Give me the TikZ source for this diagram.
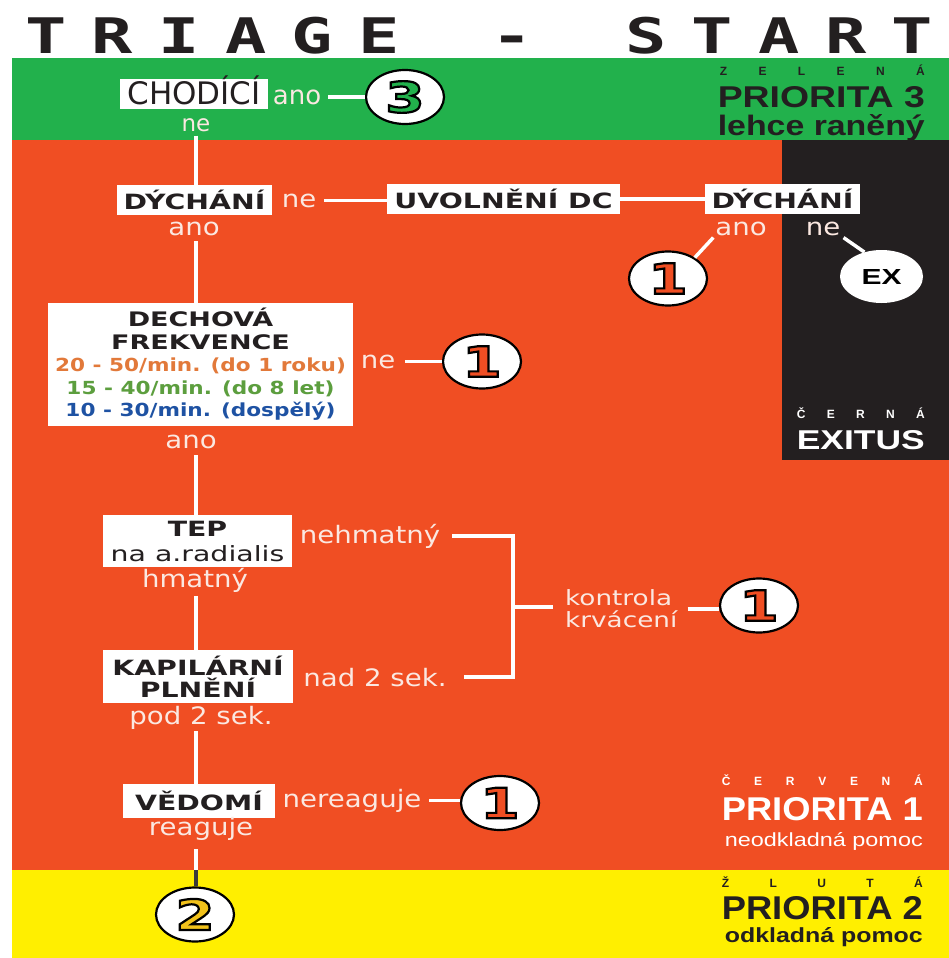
\documentclass[tikz,border=0pt]{standalone}
\usepackage{fontspec}
\usepackage{graphicx}
\usetikzlibrary{shapes.geometric}
\newfontfamily\titf[FakeStretch=1.4]{DejaVu Sans Mono}
\newfontfamily\boxf[FakeStretch=1.35]{DejaVu Sans}
\newfontfamily\rngf[FakeStretch=1.2]{DejaVu Sans}
\newfontfamily\lblf[FakeStretch=1.15]{DejaVu Sans}
\newfontfamily\kontf[FakeStretch=1.25]{DejaVu Sans}
\newfontfamily\chf{DejaVu Sans}
\newfontfamily\prif{Liberation Sans}
\newcommand\outd[2]{{\color{#1}\special{pdf:literal direct 0 0 0 RG 2.2 w 2 Tr}#2\special{pdf:literal direct 0 Tr}}}
\definecolor{cgreen}{HTML}{22B14C}
\definecolor{cred}{HTML}{F04E23}
\definecolor{cyel}{HTML}{FFEF00}
\definecolor{cblk}{HTML}{231F20}
\definecolor{lblw}{HTML}{FBE8E1}
\definecolor{corg}{HTML}{E2793A}
\definecolor{cgrn2}{HTML}{5C9E3E}
\definecolor{cblu}{HTML}{1E52A3}
\definecolor{cgold}{HTML}{F2C21B}
\definecolor{txtk}{HTML}{231F20}
\definecolor{cdkg}{HTML}{3A3A3A}
\begin{document}
\begin{tikzpicture}[x=1pt,y=-1pt,
 wbox/.style={fill=white, text=txtk, inner sep=0pt, align=center, font=\boxf\bfseries\fontsize{21}{25}\selectfont},
 wlbl/.style={text=lblw, inner sep=0pt, outer sep=0pt, anchor=base, font=\lblf\fontsize{24}{24}\selectfont},
 conn/.style={draw=white, line width=3.5pt},
 badge/.style={ellipse, draw=black, line width=2.2pt, fill=white, minimum width=78pt, minimum height=54pt, inner sep=0pt, font=\boxf\bfseries\fontsize{42}{42}\selectfont},
 zlab/.style={anchor=base east, inner sep=0pt, font=\prif\bfseries\fontsize{12}{12}\selectfont},
 plab/.style={anchor=base east, inner sep=0pt, font=\prif\bfseries},
]
\useasboundingbox (0,0) rectangle (949,958);
\fill[white] (0,0) rectangle (949,958);
\fill[cgreen] (12,58) rectangle (949,140);
\fill[cred] (12,140) rectangle (949,870);
\fill[cyel] (12,870) rectangle (949,958);
\fill[cblk] (782,140) rectangle (949,460);

% title
\node[anchor=base west, inner sep=0pt, text=txtk, font=\titf\bfseries\fontsize{49}{49}\selectfont] (title) at (25,53)
 {\makebox[908pt][s]{T\hfill R\hfill I\hfill A\hfill G\hfill E\hfill\phantom{X}\hfill -\hfill\phantom{X}\hfill S\hfill T\hfill A\hfill R\hfill T}};

% right labels
\node[zlab, text=txtk] (zel) at (925,75) {\makebox[205pt][s]{Z\hfill E\hfill L\hfill E\hfill N\hfill Á}};
\node[plab, text=txtk] (pri3) at (925,107) {\resizebox{207pt}{21pt}{PRIORITA 3}};
\node[plab, text=txtk] (leh) at (925,135) {\resizebox{207pt}{21pt}{lehce raněný}};
\node[zlab, text=white] (cer) at (925,418) {\makebox[128pt][s]{Č\hfill E\hfill R\hfill N\hfill Á}};
\node[plab, text=white] (exi) at (925,449) {\resizebox{128pt}{19pt}{EXITUS}};
\node[zlab, text=white] (cerv) at (923,785) {\makebox[201pt][s]{Č\hfill E\hfill R\hfill V\hfill E\hfill N\hfill Á}};
\node[plab, text=white] (pri1) at (923,820) {\resizebox{201pt}{23pt}{PRIORITA 1}};
\node[anchor=base east, inner sep=0pt, text=white, font=\prif] (neo) at (923,846) {\resizebox{198pt}{14pt}{neodkladná pomoc}};
\node[zlab, text=txtk] (zlu) at (923,887) {\makebox[201pt][s]{Ž\hfill L\hfill U\hfill T\hfill Á}};
\node[plab, text=txtk] (pri2) at (923,919) {\resizebox{201pt}{23pt}{PRIORITA 2}};
\node[plab, text=txtk] (odk) at (923,942) {\resizebox{198pt}{15pt}{odkladná pomoc}};

\coordinate (vx) at (196,0);

% flow nodes
\node[wbox, minimum width=148pt, minimum height=30pt, text height=24pt, text depth=4pt, font=\chf\fontsize{31}{31}\selectfont] (chod) at (194,94) {CHODÍCÍ};
\node[anchor=base, inner sep=0pt, text=lblw, font=\chf\fontsize{26}{26}\selectfont] (anoA) at (297,104) {ano};
\node[anchor=base, inner sep=0pt, text=lblw, font=\chf\fontsize{23}{23}\selectfont] (neA) at (196,131) {ne};
\node[badge] (c3) at (405,97) {\outd{cgreen}{3}};

\node[wbox, minimum width=155pt, minimum height=30pt] (dyc1) at (194.5,200) {DÝCHÁNÍ};
\node[wlbl] (neB) at (299,207) {ne};
\node[wbox, minimum width=233pt, minimum height=30pt] (uvo) at (503.5,199) {UVOLNĚNÍ DC};
\node[wbox, minimum width=155pt, minimum height=30pt] (dyc2) at (782.5,198.5) {DÝCHÁNÍ};
\node[wlbl] (anoB) at (194,235) {ano};
\node[wlbl] (anoC) at (741,235) {ano};
\node[wlbl] (neC) at (823,235) {ne};
\node[badge] (c1a) at (668,278.5) {\outd{cred}{1}};
\node[ellipse, fill=white, minimum width=83pt, minimum height=53pt, inner sep=0pt, text=black, font=\prif\bfseries] (ex) at (881.5,276.5) {\resizebox{40pt}{15pt}{EX}};

\node[wbox, minimum width=305pt, minimum height=123pt, font=\boxf\bfseries\fontsize{20}{22.5}\selectfont] (dech) at (200.5,364.5)
 {DECHOVÁ\\FREKVENCE\\
  {\rngf\fontsize{18}{22.5}\selectfont\color{corg}20 - 50/min. (do 1 roku)}\\
  {\rngf\fontsize{18}{22.5}\selectfont\color{cgrn2}15 - 40/min. (do 8 let)}\\
  {\rngf\fontsize{18}{22.5}\selectfont\color{cblu}10 - 30/min. (dospělý)}};
\node[wlbl] (neD) at (378,368) {ne};
\node[badge] (c1b) at (482,361.5) {\outd{cred}{1}};
\node[wlbl] (anoD) at (191,448) {ano};

\node[wbox, minimum width=189pt, minimum height=52pt] (tep) at (197.5,541) {TEP\\{\mdseries na a.radialis}};
\node[wlbl] (nehm) at (370,543) {nehmatný};
\node[wlbl] (hmat) at (195,587) {hmatný};
\node[wbox, minimum width=190pt, minimum height=53pt, font=\boxf\bfseries\fontsize{21}{22}\selectfont] (kap) at (198,676.5) {KAPILÁRNÍ\\PLNĚNÍ};
\node[wlbl] (nad) at (375,686) {nad 2 sek.};
\node[wlbl] (pod) at (201,724) {pod 2 sek.};
\node[text=lblw, inner sep=0pt, align=left, anchor=west, font=\kontf\fontsize{21}{22}\selectfont] (kont) at (565,609) {kontrola\\krvácení};
\node[badge] (c1c) at (759,605.5) {\outd{cred}{1}};

\node[wbox, minimum width=152pt, minimum height=34pt] (ved) at (199,801) {VĚDOMÍ};
\node[wlbl] (nere) at (352,807) {nereaguje};
\node[badge] (c1d) at (500,803) {\outd{cred}{1}};
\node[wlbl] (rea) at (201,835) {reaguje};
\node[badge] (c2) at (195,914.5) {\outd{cgold}{2}};

\coordinate (bt) at (513,538);
\coordinate (bm) at (513,607);
\coordinate (ybord) at (196,870);

% connectors
\draw[conn, shorten <=7pt] (anoA.east) -- (anoA.east -| c3.west);
\draw[conn, shorten <=4pt] (neA.south -| vx) -- (dyc1.north -| vx);
\draw[conn, shorten <=8pt] (neB.east) -- (neB.east -| uvo.west);
\draw[conn] (uvo.east) -- (uvo.east -| dyc2.west);
\draw[conn, shorten <=3pt] (anoC.south west) -- (c1a.38);
\draw[conn, shorten <=4pt] (neC.south east) -- (ex.125);
\draw[conn, shorten <=6pt] (anoB.south -| vx) -- (dech.north -| vx);
\draw[conn, shorten <=10pt] (neD.east) -- (neD.east -| c1b.west);
\draw[conn, shorten <=7pt] (anoD.south -| vx) -- (tep.north -| vx);
\draw[conn, shorten <=12pt, shorten >=17pt] (nehm.east) -- (nehm.east -| bt) -- (nad.east -| bt) -- (nad.east);
\draw[conn, shorten >=12pt] (bm) -- (bm -| kont.west);
\draw[conn, shorten <=10pt] (kont.east) -- (kont.east -| c1c.west);
\draw[conn, shorten <=4pt] (hmat.south -| vx) -- (kap.north -| vx);
\draw[conn, shorten <=2pt] (pod.south -| vx) -- (ved.north -| vx);
\draw[conn, shorten <=8pt] (nere.east) -- (nere.east -| c1d.west);
\draw[conn, shorten <=9pt] (rea.south -| vx) -- (ybord);
\draw[draw=cdkg, line width=3.5pt] (ybord) -- (ybord |- c2.north);
\end{tikzpicture}
\end{document}
